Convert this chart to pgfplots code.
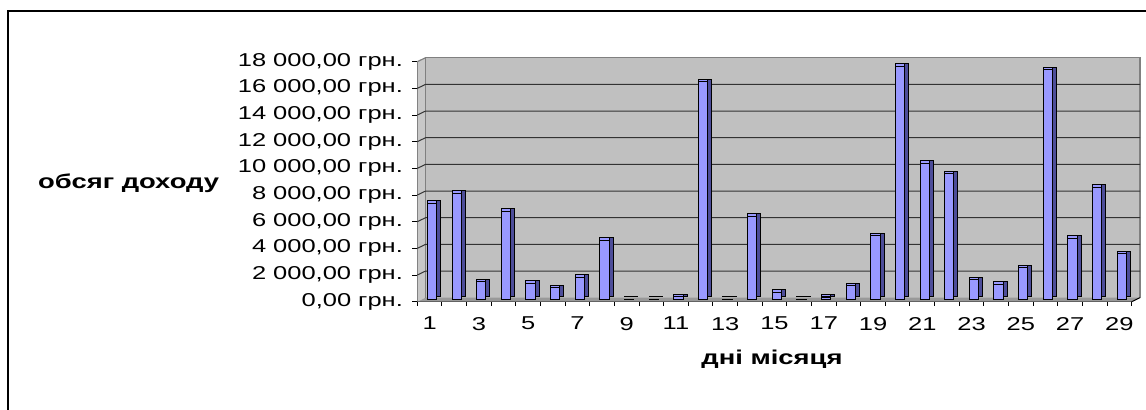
\documentclass[border=0pt]{standalone}
\usepackage{fontspec}
\setmainfont{Liberation Sans}[FakeStretch=1.37]
\usepackage{pgfplots}
\pgfplotsset{compat=1.18}
\definecolor{barfront}{HTML}{9999FF}
\definecolor{barside}{HTML}{4D4D99}
\definecolor{wallc}{HTML}{C0C0C0}
\definecolor{floorc}{HTML}{999999}
\definecolor{leftwallc}{HTML}{C8C8C8}
\definecolor{gridc}{HTML}{333333}
\begin{document}
\begin{tikzpicture}
\useasboundingbox (0,0) rectangle (573pt,-205pt);
\draw[line width=1pt] (3.75pt,-210pt) -- (3.75pt,-5.35pt) -- (580pt,-5.35pt);
\begin{axis}[
  at={(208.65pt,-150.85pt)}, anchor=south west,
  scale only axis, width=357.2pt, height=120pt,
  xmin=0.5, xmax=29.5, ymin=0, ymax=18000,
  clip=false,
  scaled y ticks=false,
  axis x line*=bottom, axis y line*=left,
  axis line style={black, line width=0.5pt},
  tick align=outside,
  xtick={1,3,5,7,9,11,13,15,17,19,21,23,25,27,29},
  major x tick style={draw=none},
  minor xtick={0.5,1.5,2.5,3.5,4.5,5.5,6.5,7.5,8.5,9.5,10.5,11.5,12.5,13.5,14.5,15.5,16.5,17.5,18.5,19.5,20.5,21.5,22.5,23.5,24.5,25.5,26.5,27.5,28.5,29.5},
  minor x tick style={draw=black, line width=0.5pt},
  minor tick length=2pt,
  ytick={0,2000,4000,6000,8000,10000,12000,14000,16000,18000},
  yticklabels={{0,00 грн.},{2 000,00 грн.},{4 000,00 грн.},{6 000,00 грн.},{8 000,00 грн.},{10 000,00 грн.},{12 000,00 грн.},{14 000,00 грн.},{16 000,00 грн.},{18 000,00 грн.}},
  major y tick style={draw=black, line width=0.5pt},
  major tick length=2.5pt,
  /pgf/number format/assume math mode=true,
  ticklabel style={font=\fontsize{9.3pt}{11pt}\selectfont},
  yticklabel style={anchor=east, inner sep=0pt, xshift=-4.5pt},
  xticklabel style={anchor=north, inner sep=0pt, yshift=-5pt},
  xlabel={дні місяця},
  ylabel={обсяг доходу},
  label style={font=\fontsize{10pt}{12pt}\selectfont\bfseries},
  xlabel style={at={(axis description cs:0.4965,-0.239)}, anchor=center},
  ylabel style={at={(axis description cs:-0.404,0.495)}, anchor=center, rotate=-90},
  ybar, bar width=4.65pt,
]
% walls and floor
\fill[wallc] ([shift={(4.15pt,2pt)}]axis cs:0.5,0) rectangle ([shift={(4.15pt,2pt)}]axis cs:29.5,18000);
\fill[leftwallc] (axis cs:0.5,0) -- ([shift={(4.15pt,2pt)}]axis cs:0.5,0) -- ([shift={(4.15pt,2pt)}]axis cs:0.5,18000) -- (axis cs:0.5,18000) -- cycle;
\fill[floorc] (axis cs:0.5,0) -- (axis cs:29.5,0) -- ([shift={(4.15pt,2pt)}]axis cs:29.5,0) -- ([shift={(4.15pt,2pt)}]axis cs:0.5,0) -- cycle;
\draw[gray, line width=0.6pt] ([shift={(4.15pt,2pt)}]axis cs:0.5,0) -- ([shift={(4.15pt,2pt)}]axis cs:0.5,18000) -- ([shift={(4.15pt,2pt)}]axis cs:29.5,18000) -- ([shift={(4.15pt,2pt)}]axis cs:29.5,0);
\draw[gray, line width=0.6pt] (axis cs:0.5,18000) -- ([shift={(4.15pt,2pt)}]axis cs:0.5,18000);
\pgfplotsinvokeforeach{2000,4000,6000,8000,10000,12000,14000,16000}{
  \draw[gridc, line width=0.5pt] (axis cs:0.5,#1) -- ([shift={(4.15pt,2pt)}]axis cs:0.5,#1) -- ([shift={(4.15pt,2pt)}]axis cs:29.5,#1);
}
\draw[black, line width=0.5pt] (axis cs:29.5,0) -- ([shift={(4.15pt,2pt)}]axis cs:29.5,0);
% bars: side, top, front
\addplot[draw=black, line width=0.5pt, fill=barside, bar shift=3.2pt, yshift=2.55pt] coordinates {
(1,7200) (2,7950) (3,1300) (4,6600) (5,1200) (6,850) (7,1650) (8,4400) (9,20) (10,20)
(11,180) (12,16300) (13,20) (14,6200) (15,500) (16,20) (17,170) (18,1000) (19,4750) (20,17450)
(21,10200) (22,9400) (23,1450) (24,1100) (25,2350) (26,17200) (27,4550) (28,8400) (29,3400)};
\addplot[draw=black, line width=0.5pt, fill=barfront, bar shift=1.2pt, yshift=2.55pt] coordinates {
(1,7200) (2,7950) (3,1300) (4,6600) (5,1200) (6,850) (7,1650) (8,4400) (9,20) (10,20)
(11,180) (12,16300) (13,20) (14,6200) (15,500) (16,20) (17,170) (18,1000) (19,4750) (20,17450)
(21,10200) (22,9400) (23,1450) (24,1100) (25,2350) (26,17200) (27,4550) (28,8400) (29,3400)};
\addplot[draw=black, line width=0.5pt, fill=barfront, bar shift=1.2pt, yshift=1.2pt] coordinates {
(1,7200) (2,7950) (3,1300) (4,6600) (5,1200) (6,850) (7,1650) (8,4400) (9,20) (10,20)
(11,180) (12,16300) (13,20) (14,6200) (15,500) (16,20) (17,170) (18,1000) (19,4750) (20,17450)
(21,10200) (22,9400) (23,1450) (24,1100) (25,2350) (26,17200) (27,4550) (28,8400) (29,3400)};
\end{axis}
\end{tikzpicture}
\end{document}
